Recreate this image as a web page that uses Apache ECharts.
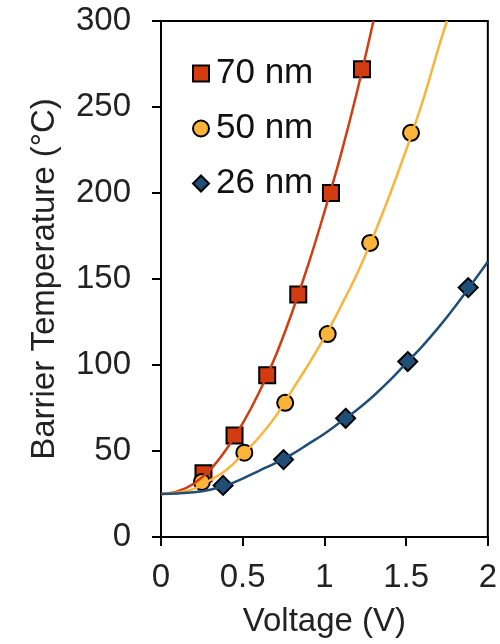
<!DOCTYPE html>
<html>
<head>
<meta charset="utf-8">
<script src="https://cdn.jsdelivr.net/npm/echarts@6/dist/echarts.min.js"></script>
<style>
  html, body { margin: 0; padding: 0; background: #fff; }
  #chart { width: 500px; height: 644px; }
</style>
</head>
<body>
<div id="chart"></div>
<script>
// measured points (voltage V, temperature C)
const pts70 = [[0.26, 37], [0.45, 59], [0.65, 94], [0.84, 141], [1.04, 200], [1.23, 272]];
const pts50 = [[0.25, 32], [0.51, 49], [0.76, 78], [1.02, 118], [1.28, 171], [1.53, 235]];
const pts26 = [[0.38, 30], [0.75, 45], [1.13, 69], [1.51, 102], [1.88, 145]];

// fitted curves
const fit70 = [[0, 25], [0.1, 26.5], [0.2, 31], [0.3, 39], [0.4, 51], [0.5, 66], [0.6, 84], [0.7, 105],
  [0.8, 130], [0.9, 158], [1.0, 189], [1.1, 222], [1.2, 259], [1.3, 300]];
const fit50 = [[0, 25], [0.1, 25.8], [0.2, 28], [0.3, 33], [0.4, 39], [0.5, 48], [0.6, 58], [0.7, 70],
  [0.8, 85], [0.9, 100], [1.0, 116], [1.1, 134], [1.2, 153], [1.3, 175], [1.4, 199], [1.5, 225],
  [1.6, 253], [1.7, 285], [1.75, 300]];
const fit26 = [[0, 25], [0.1, 25.3], [0.2, 26], [0.3, 27.5], [0.4, 30], [0.5, 34], [0.6, 38.5], [0.7, 43],
  [0.8, 48], [0.9, 54], [1.0, 60], [1.1, 67], [1.2, 74], [1.3, 82], [1.4, 91], [1.5, 101], [1.6, 111],
  [1.7, 122], [1.8, 134], [1.9, 147], [2.0, 160]];

const names = ['70 nm', '50 nm', '26 nm'];
const colors = ['#D23C10', '#FBB33A', '#1F4E79'];
const symbols = ['rect', 'circle', 'diamond'];

const font = 'Liberation Sans, Arial, sans-serif';
const chart = echarts.init(document.getElementById('chart'));

const fits = [fit70, fit50, fit26];
const pts = [pts70, pts50, pts26];

chart.setOption({
  animation: false,
  grid: {
    left: 161, right: 11, top: 21, bottom: 107,
    show: true, borderColor: '#000', borderWidth: 2
  },
  legend: {
    orient: 'vertical',
    left: 187, top: 50,
    itemWidth: 16, itemHeight: 16, itemGap: 18,
    data: names,
    textStyle: { fontFamily: font, fontSize: 35, color: '#111', lineHeight: 37, padding: [0, 0, 0, 2] }
  },
  xAxis: {
    type: 'value', min: 0, max: 2, interval: 0.5,
    name: 'Voltage (V)', nameLocation: 'middle', nameGap: 68,
    nameTextStyle: { fontFamily: font, fontSize: 33, color: '#222' },
    axisLine: { lineStyle: { color: '#000', width: 2 } },
    axisTick: { show: true, length: 9, lineStyle: { color: '#000', width: 2 } },
    axisLabel: { fontFamily: font, fontSize: 33, color: '#222', margin: 24 },
    splitLine: { show: false }
  },
  yAxis: {
    type: 'value', min: 0, max: 300, interval: 50,
    name: 'Barrier Temperature (°C)', nameLocation: 'middle', nameGap: 100, nameRotate: 90,
    nameTextStyle: { fontFamily: font, fontSize: 33, color: '#222' },
    axisLine: { show: true, lineStyle: { color: '#000', width: 2 } },
    axisTick: { show: true, length: 9, lineStyle: { color: '#000', width: 2 } },
    axisLabel: { fontFamily: font, fontSize: 33, color: '#222', margin: 30 },
    splitLine: { show: false }
  },
  series: [
    ...fits.map((d, i) => ({
      type: 'line', data: d, smooth: 0.4, showSymbol: false, symbol: 'none',
      lineStyle: { color: colors[i], width: 2.5 }, z: 3, clip: true
    })),
    ...pts.map((d, i) => ({
      name: names[i], type: 'scatter', data: d, symbol: symbols[i],
      symbolSize: i === 2 ? 19 : 16,
      itemStyle: { color: colors[i], borderColor: '#000', borderWidth: 2, opacity: 1 }, z: 2
    }))
  ]
});
</script>
</body>
</html>
